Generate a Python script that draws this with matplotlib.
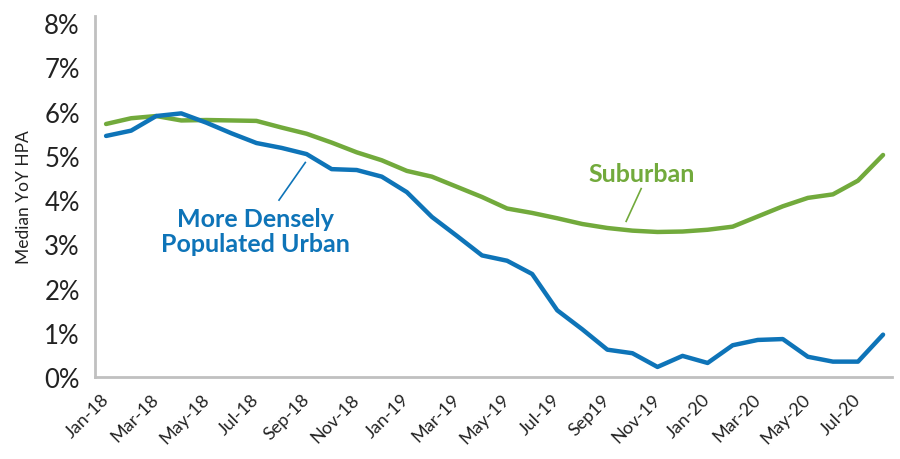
import matplotlib
matplotlib.use("Agg")
import matplotlib.pyplot as plt

months = ["Jan-18", "Feb-18", "Mar-18", "Apr-18", "May-18", "Jun-18", "Jul-18", "Aug-18",
          "Sep-18", "Oct-18", "Nov-18", "Dec-18", "Jan-19", "Feb-19", "Mar-19", "Apr-19",
          "May-19", "Jun-19", "Jul-19", "Aug-19", "Sep19", "Oct-19", "Nov-19", "Dec-19",
          "Jan-20", "Feb-20", "Mar-20", "Apr-20", "May-20", "Jun-20", "Jul-20", "Aug-20"]

suburban = [5.72, 5.85, 5.90, 5.80, 5.81, 5.80, 5.79, 5.64,
            5.50, 5.30, 5.08, 4.90, 4.66, 4.53, 4.30, 4.07,
            3.81, 3.71, 3.59, 3.46, 3.37, 3.31, 3.28, 3.29,
            3.33, 3.40, 3.63, 3.86, 4.05, 4.13, 4.44, 5.02]

urban = [5.45, 5.57, 5.90, 5.96, 5.75, 5.51, 5.29, 5.18,
         5.04, 4.70, 4.68, 4.53, 4.18, 3.62, 3.19, 2.75,
         2.63, 2.33, 1.51, 1.08, 0.62, 0.54, 0.23, 0.48,
         0.32, 0.72, 0.84, 0.86, 0.46, 0.35, 0.35, 0.96]

yticks = [0, 1, 2, 3, 4, 5, 6, 7, 8]
ytick_labels = ["0%", "1%", "2%", "3%", "4%", "5%", "6%", "7%", "8%"]

GREEN = "#72aa3c"
BLUE = "#0e74b8"
FONT = ["Lato", "DejaVu Sans"]
plt.rcParams["font.family"] = FONT

fig = plt.figure(figsize=(9, 4.6), dpi=100)
ax = fig.add_axes([0.1056, 0.178, 0.8856, 0.785])

x = list(range(len(months)))
ax.plot(x, suburban, color=GREEN, lw=3.2, solid_capstyle="round", solid_joinstyle="round")
ax.plot(x, urban, color=BLUE, lw=3.2, solid_capstyle="round", solid_joinstyle="round")

ax.set_xlim(-0.44, 31.36)
ax.set_ylim(0, 8.16)
ax.set_yticks(yticks)
ax.set_yticklabels(ytick_labels, fontsize=18.5, color="#222222")
ax.set_xticks(x[::2])
ax.set_xticklabels(months[::2], rotation=45, ha="right", va="center",
                   rotation_mode="anchor", fontsize=13, color="#222222")
ax.tick_params(axis="both", length=0)
ax.tick_params(axis="y", pad=11)
ax.tick_params(axis="x", pad=14)

for s in ["top", "right"]:
    ax.spines[s].set_visible(False)
for s in ["left", "bottom"]:
    ax.spines[s].set_color("#c0c0c0")
    ax.spines[s].set_linewidth(2)

ax.set_ylabel("Median YoY HPA", fontsize=12.5, color="#222222", labelpad=9)

# annotations
ax.text(21.35, 4.6, "Suburban", color=GREEN, fontsize=18, fontweight="bold",
        ha="center", va="center")
ax.plot([21.35, 20.75], [4.26, 3.52], color=GREEN, lw=1.2)

ax.text(5.95, 3.3, "More Densely\nPopulated Urban", color=BLUE, fontsize=18,
        fontweight="bold", ha="center", va="center", linespacing=1.1)
ax.plot([6.9, 7.95], [4.0, 4.85], color=BLUE, lw=1.2)

fig.savefig("out.png", dpi=100)
